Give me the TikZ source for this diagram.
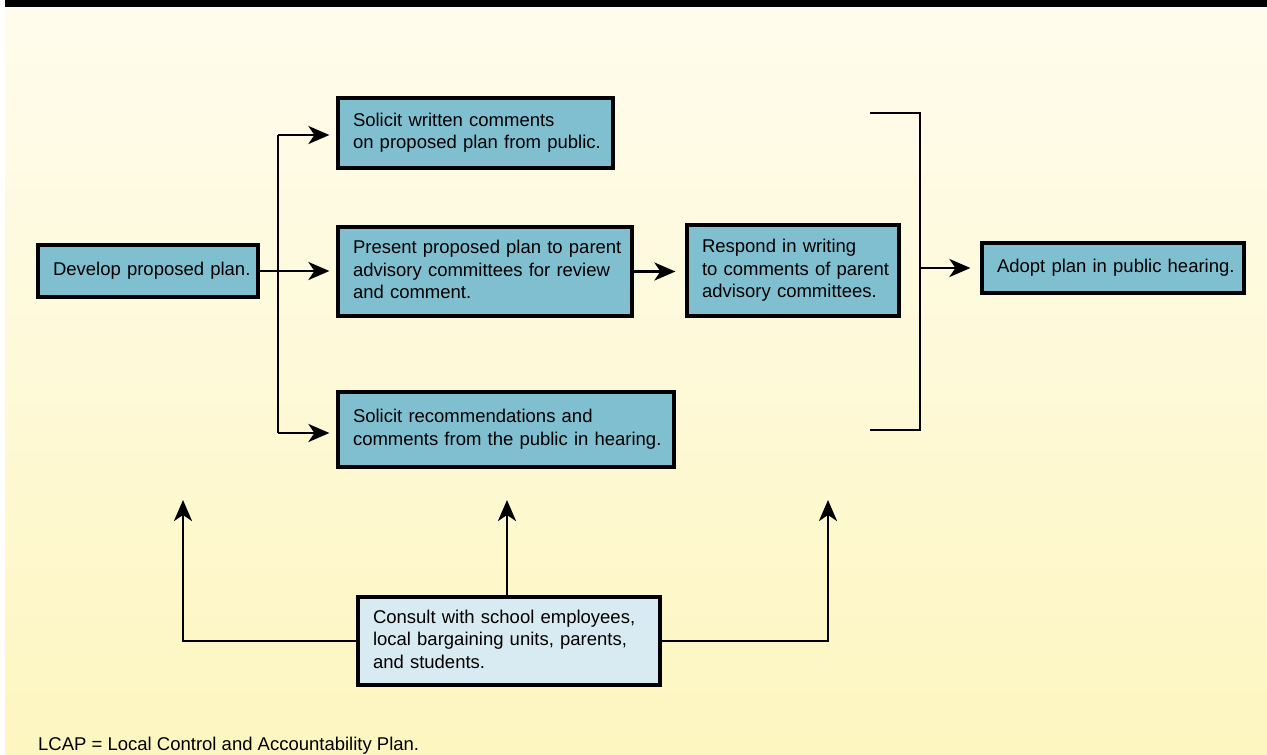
\documentclass[tikz,border=0pt]{standalone}
\usepackage{fontspec}
\setmainfont{Liberation Sans}
\usetikzlibrary{arrows.meta,calc}
\definecolor{boxblue}{HTML}{7FBFD0}
\definecolor{lightblue}{HTML}{D8EBF2}
\definecolor{bgtop}{HTML}{FFFCEE}
\definecolor{bgbot}{HTML}{FDF6C0}
\newcommand\padtab[1]{\hspace*{15pt}\begin{tabular}{@{}l@{}}#1\end{tabular}}
\tikzset{
  procbox/.style={draw=black, line width=3.2pt, fill=boxblue, inner xsep=0pt, inner ysep=0pt,
    align=left, font=\fontsize{18.5}{22.5}\selectfont},
  conbox/.style={procbox, fill=lightblue},
  link/.style={line width=2.8pt, draw=black},
  arr/.style={link, -{Stealth[length=21pt,width=18pt,inset=6pt]}},
}
\begin{document}
\begin{tikzpicture}[x=1pt,y=-1pt]
\useasboundingbox (0,0) rectangle (1267,755);
% background
\shade[top color=bgtop, bottom color=bgbot] (5,0) rectangle (1267,755);
\fill[white] (0,0) rectangle (5,755);
\fill[black] (5,0) rectangle (1267,7);

% nodes
\node[procbox, minimum height=52pt, text width=220pt] (dev) at (148,271) {\padtab{Develop proposed plan.}};
\node[procbox, minimum height=70pt, text width=275pt] (sw) at (475.5,133) {\padtab{Solicit written comments\\on proposed plan from public.}};
\node[procbox, minimum height=89pt, text width=294pt] (pp) at (485,271.5) {\padtab{Present proposed plan to parent\\advisory committees for review\\and comment.}};
\node[procbox, minimum height=75pt, text width=336pt] (sr) at (506,429.5) {\padtab{Solicit recommendations and\\comments from the public in hearing.}};
\node[procbox, minimum height=91pt, text width=212pt] (rw) at (793,270.5) {\padtab{Respond in writing\\to comments of parent\\advisory committees.}};
\node[procbox, minimum height=50pt, text width=262pt] (ad) at (1113,268) {\padtab{Adopt plan in public hearing.}};
\node[conbox, minimum height=88pt, text width=302pt] (co) at (509,641) {\padtab{Consult with school employees,\\local bargaining units, parents,\\and students.}};
\node[anchor=base west, inner sep=0pt, font=\fontsize{18.5}{22.5}\selectfont] (note) at (38,750) {LCAP = Local Control and Accountability Plan.};

% coordinates
\coordinate (j1) at (278,135);
\coordinate (j2) at (278,433);
\coordinate (jm) at (278,271);
\coordinate (b1) at (870,113);
\coordinate (b2) at (920,113);
\coordinate (b3) at (920,430);
\coordinate (b4) at (870,430);
\coordinate (bm) at (920,268);
\coordinate (ul) at (183,500);
\coordinate (um) at (507,500);
\coordinate (ur) at (828,500);
\coordinate (cm) at (507,597);

% connectors
\draw[link] (dev.east) -- (jm);
\draw[link] (j1) -- (j2);
\draw[arr, shorten >=7pt] (j1) -- (j1 -| sw.west);
\draw[arr, shorten >=7pt] (jm) -- (jm -| pp.west);
\draw[arr, shorten >=7pt] (j2) -- (j2 -| sr.west);
\draw[arr, shorten >=10pt] (pp.east) -- (pp.east -| rw.west);
\draw[link] (b1) -- (b2) -- (b3) -- (b4);
\draw[arr, shorten >=10pt] (bm) -- (bm -| ad.west);
\draw[arr] (co.west) -| (ul);
\draw[arr] (cm) -- (um);
\draw[arr] (co.east) -| (ur);
\end{tikzpicture}
\end{document}
